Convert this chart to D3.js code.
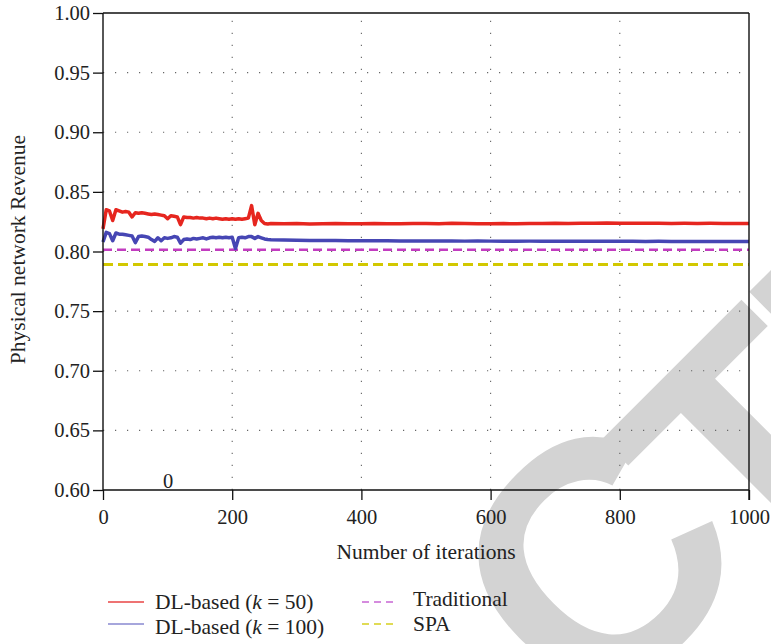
<!DOCTYPE html>
<html>
<head>
<meta charset="utf-8">
<script src="https://cdn.jsdelivr.net/npm/d3@7"></script>
<style>
  html, body { margin: 0; padding: 0; background: #fff; }
  svg { display: block; }
  text { font-family: "Liberation Serif", "Times New Roman", serif; fill: #222; }
</style>
</head>
<body>
<svg id="chart" width="771" height="644"></svg>
<script>
// ---------------- DATA ----------------
const iterations = [0,5,10,15,20,25,30,35,40,45,50,55,60,65,70,75,80,85,90,95,100,105,110,115,120,125,130,135,140,145,150,155,160,165,170,175,180,185,190,195,200,205,210,215,220,225,230,235,240,245,250,255,260,
  280,300,320,340,360,380,400,420,440,460,480,500,520,540,560,580,600,620,640,660,680,700,720,740,760,780,800,820,840,860,880,900,920,940,960,980,1000];

const dlK50 = [0.819,0.835,0.834,0.826,0.835,0.834,0.833,0.8335,0.833,0.829,0.8325,0.832,0.8325,0.832,0.8315,0.831,0.8315,0.831,0.8305,0.830,0.8275,0.830,0.8295,0.829,0.8225,0.829,0.8285,0.8285,0.828,0.8285,0.828,0.828,0.8275,0.828,0.8275,0.828,0.8275,0.827,0.8275,0.827,0.8275,0.827,0.8275,0.827,0.8275,0.828,0.8385,0.8225,0.832,0.826,0.8235,0.823,0.8235,
  0.8232,0.8234,0.8231,0.8233,0.8235,0.8232,0.8233,0.8234,0.8232,0.8233,0.8235,0.8234,0.8233,0.8236,0.8234,0.8233,0.8232,0.8234,0.8233,0.8235,0.8234,0.8236,0.8235,0.8237,0.8236,0.8238,0.8237,0.8236,0.8237,0.8236,0.8235,0.8236,0.8235,0.8236,0.8235,0.8234,0.8235];

const dlK100 = [0.808,0.816,0.815,0.809,0.8155,0.8145,0.8145,0.814,0.8135,0.813,0.8075,0.8125,0.813,0.8125,0.812,0.810,0.8085,0.8115,0.809,0.8115,0.811,0.8115,0.8125,0.812,0.807,0.810,0.8105,0.810,0.811,0.8105,0.811,0.8115,0.8105,0.8115,0.812,0.8115,0.812,0.8115,0.812,0.8115,0.812,0.8025,0.8115,0.812,0.8115,0.8125,0.8125,0.811,0.8125,0.8115,0.8105,0.810,0.8098,
  0.8096,0.8094,0.8093,0.8092,0.8092,0.8091,0.8090,0.8091,0.8090,0.8089,0.8089,0.8088,0.8089,0.8088,0.8087,0.8088,0.8087,0.8087,0.8086,0.8087,0.8086,0.8086,0.8085,0.8086,0.8085,0.8085,0.8086,0.8085,0.8084,0.8085,0.8084,0.8084,0.8083,0.8084,0.8083,0.8083,0.8084];

const flatIterations = [0, 1000];
const traditional = [0.8015, 0.8015];
const spa = [0.789, 0.789];

const xTicks = [0, 200, 400, 600, 800, 1000];
const yTicks = [0.60, 0.65, 0.70, 0.75, 0.80, 0.85, 0.90, 0.95, 1.00];
const xGrid = [200, 400, 600, 800];
const yGrid = [0.65, 0.70, 0.75, 0.80, 0.85, 0.90, 0.95];

// ---------------- CHART ----------------
const svg = d3.select("#chart");
const L = 103, R = 749, T = 13, B = 490;
const x = d3.scaleLinear().domain([0, 1000]).range([L, R]);
const y = d3.scaleLinear().domain([0.6, 1.0]).range([B, T]);

// watermark (behind everything)
const wm = svg.append("text")
  .attr("transform", "translate(682,685) rotate(-45)")
  .style("font-family", "'Liberation Sans', Arial, sans-serif")
  .style("font-weight", "bold")
  .style("font-size", "335px")
  .style("letter-spacing", "-15px")
  .style("fill", "#d3d3d3");
wm.append("tspan").text("RETRA");
const cSpan = wm.append("tspan").text("C");
const tSpan = wm.append("tspan").text("TED");
const pre = wm.node().getSubStringLength(0, 5);
const cw = wm.node().getSubStringLength(5, 1);
wm.attr("x", -(pre + cw / 2));
cSpan.attr("dx", 18).attr("dy", -32);
tSpan.attr("dx", -18).attr("dy", 32);

// grid
const grid = svg.append("g").attr("stroke", "#666").attr("stroke-width", 1.1).attr("stroke-dasharray", "1.2,10.8");
grid.selectAll(".gx").data(xGrid).join("line")
  .attr("x1", d => x(d)).attr("x2", d => x(d)).attr("y1", B).attr("y2", T);
grid.selectAll(".gy").data(yGrid).join("line")
  .attr("y1", d => y(d)).attr("y2", d => y(d)).attr("x1", L).attr("x2", R);

// series
const line = d3.line().x(d => x(d[0])).y(d => y(d[1]));
svg.append("path").datum(flatIterations.map((d, i) => [d, spa[i]]))
  .attr("d", line).attr("fill", "none").attr("stroke", "#d2c800").attr("stroke-width", 3).attr("stroke-dasharray", "10,5");
svg.append("path").datum(flatIterations.map((d, i) => [d, traditional[i]]))
  .attr("d", line).attr("fill", "none").attr("stroke", "#c23cc0").attr("stroke-width", 2.5).attr("stroke-dasharray", "9,5");
svg.append("path").datum(iterations.map((d, i) => [d, dlK100[i]]))
  .attr("d", line).attr("fill", "none").attr("stroke", "#4646b4").attr("stroke-width", 3.5).attr("stroke-linejoin", "round");
svg.append("path").datum(iterations.map((d, i) => [d, dlK50[i]]))
  .attr("d", line).attr("fill", "none").attr("stroke", "#e6261f").attr("stroke-width", 3.5).attr("stroke-linejoin", "round");

// axes
const tickFont = "20.5px";
const textFont = "21.5px";
const xAxis = svg.append("g").attr("transform", `translate(0,${B})`)
  .call(d3.axisBottom(x).tickValues(xTicks).tickFormat(d3.format("d")).tickSize(10).tickPadding(9));
const yAxis = svg.append("g").attr("transform", `translate(${L},0)`)
  .call(d3.axisLeft(y).tickValues(yTicks).tickFormat(d3.format(".2f")).tickSize(10).tickPadding(3));
[xAxis, yAxis].forEach(a => {
  a.select(".domain").remove();
  a.selectAll(".tick line").attr("stroke", "#111").attr("stroke-width", 1.3);
  a.selectAll(".tick text").style("font-family", "'Liberation Serif', serif").style("font-size", tickFont).attr("fill", "#222");
});
// frame
svg.append("path")
  .attr("d", `M${L},${B}H${R}M${L},${T}H${R}M${L},${T}V${B}M${R},${T}V${B + 10}`)
  .attr("stroke", "#111").attr("stroke-width", 1.4).attr("fill", "none");

// stray label
svg.append("text").attr("x", 168).attr("y", 488).attr("text-anchor", "middle").style("font-size", tickFont).text("0");

// axis titles
svg.append("text").attr("x", (L + R) / 2).attr("y", 559).attr("text-anchor", "middle").style("font-size", textFont).text("Number of iterations");
svg.append("text").attr("transform", `translate(25,${(T + B) / 2 - 2}) rotate(-90)`).attr("text-anchor", "middle").style("font-size", textFont).text("Physical network Revenue");

// legend
const legend = [
  { name: "DL-based (", k: "k", tail: " = 50)", color: "#e84545", dash: null, lx: 108, ly: 602, ty: 609 },
  { name: "DL-based (", k: "k", tail: " = 100)", color: "#8888d0", dash: null, lx: 108, ly: 624, ty: 634 },
  { name: "Traditional", k: "", tail: "", color: "#c865d4", dash: "7,5", lx: 362, ly: 602, ty: 606 },
  { name: "SPA", k: "", tail: "", color: "#d6cf1e", dash: "7,5", lx: 362, ly: 624, ty: 631 }
];
legend.forEach(l => {
  svg.append("line").attr("x1", l.lx).attr("x2", l.lx + 36).attr("y1", l.ly).attr("y2", l.ly)
    .attr("stroke", l.color).attr("stroke-width", 1.6).attr("stroke-dasharray", l.dash);
  const t = svg.append("text").attr("x", l.dash ? 413 : 155).attr("y", l.ty).style("font-size", textFont);
  t.append("tspan").text(l.name);
  if (l.k) {
    t.append("tspan").style("font-style", "italic").text(l.k);
    t.append("tspan").text(l.tail);
  }
});
</script>
</body>
</html>
